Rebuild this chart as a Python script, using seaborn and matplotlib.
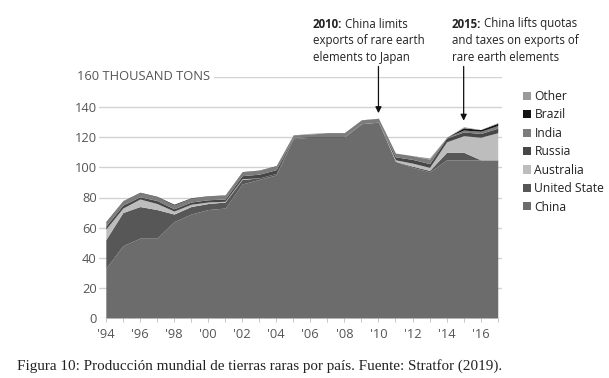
import numpy as np
import pandas as pd
import matplotlib
matplotlib.use("Agg")
import matplotlib.pyplot as plt
import seaborn as sns

years = list(range(1994, 2018))
china = [33, 48, 53, 53, 64, 69, 72, 73, 89, 92, 95, 119, 120, 120, 120, 129, 130, 104, 100, 97, 105, 105, 105, 105]
united_states = [19, 22, 21, 19, 5, 5, 4, 4, 3, 1, 1, 0.5, 0, 0, 0, 0, 0, 0, 0.8, 1, 5, 5, 0, 0]
australia = [7, 3, 5, 4, 2, 1.5, 1, 0.5, 0.5, 0, 0, 0, 0, 0, 0, 0, 0, 1, 2, 2, 7, 11, 15, 18]
russia = [2, 2, 1.5, 2, 1.5, 1.5, 1.5, 1.5, 2, 2.5, 2.5, 0.5, 0.5, 0.5, 0.5, 0, 0, 2, 2.5, 2.5, 2.5, 2.5, 2.5, 3]
india = [2.5, 2.5, 2.7, 2.5, 2.5, 2.5, 2.5, 2.5, 2.5, 2.5, 2.5, 1.5, 1.5, 2.5, 2.5, 2.5, 2.5, 2.5, 2.5, 2.5, 0.5, 1.3, 1.5, 1.8]
brazil = [0.5, 0.3, 0.3, 0.3, 0.5, 0.3, 0.2, 0.2, 0.2, 0.2, 0.2, 0.1, 0.1, 0.1, 0.1, 0.1, 0.1, 0, 0, 0.3, 0, 1.5, 1.1, 1.5]
other = [0, 0.2, 0, 0, 0, 0, 0, 0, 0, 0, 0, 0, 0.5, 0, 0, 0, 0, 0, 0, 1, 0, 0.7, 0, 0.5]

countries = ["China", "United State", "Australia", "Russia", "India", "Brazil", "Other"]
colors = ["#6c6c6c", "#575757", "#bdbdbd", "#474747", "#7c7c7c", "#141414", "#9a9a9a"]

df = pd.DataFrame({"China": china, "United State": united_states, "Australia": australia,
                   "Russia": russia, "India": india, "Brazil": brazil, "Other": other}, index=years)

sns.set_theme(style="white")
plt.rcParams["font.family"] = ["Open Sans", "DejaVu Sans"]

W, H = 609, 378
fig = plt.figure(figsize=(W / 100, H / 100), dpi=100)
ax = fig.add_axes([99 / W, 1 - 318 / H, 403 / W, (318 - 77) / H])

ax.stackplot(df.index, [df[c] for c in countries], colors=colors, labels=countries, linewidth=0, zorder=2)

ax.set_xlim(1993.6, 2017.25)
ax.set_ylim(0, 160)
for s in ax.spines.values():
    s.set_visible(False)

ax.set_yticks(range(0, 161, 20))
ax.set_yticklabels([str(v) for v in range(0, 141, 20)] + [""])
ax.yaxis.grid(True, color="#d2d2d2", linewidth=1, zorder=0)
ax.xaxis.grid(False)
ax.tick_params(axis="y", length=0, pad=1.5, labelsize=9.3, labelcolor="#555555")
ax.text(-0.0555, 160, "160 THOUSAND TONS", transform=ax.get_yaxis_transform(), ha="left", va="center",
        fontsize=9.3, color="#555555", zorder=3,
        bbox=dict(facecolor="white", edgecolor="none", pad=3))

ax.set_xticks(range(1994, 2017, 2))
ax.set_xticklabels(["'%02d" % (y % 100) for y in range(1994, 2017, 2)])
ax.set_xticks(range(1994, 2018), minor=True)
ax.tick_params(axis="x", which="both", bottom=True, length=3, width=0.6, color="#bbbbbb",
               pad=4, labelsize=9.3, labelcolor="#555555")

# legend
handles, labels = ax.get_legend_handles_labels()
leg = ax.legend(handles[::-1], labels[::-1], loc="upper left", bbox_to_anchor=(523 / W, 1 - 90 / H),
                bbox_transform=fig.transFigure, frameon=False, fontsize=8.7, labelspacing=0.45,
                handlelength=0.65, handleheight=0.65, handletextpad=0.3, borderpad=0, borderaxespad=0)
for t in leg.get_texts():
    t.set_color("#222222")


# annotations: bold year, then plain text, and an arrow down to the area
def note(x_px, year, tip_val, head, rest_first, rest_lines):
    t = fig.text(x_px / W, 1 - 24 / H, head, fontsize=8.3, fontweight="bold", color="#222222",
                 ha="left", va="center")
    ax.annotate(rest_first, xy=(1, 0), xycoords=t, ha="left", va="bottom", fontsize=8.3,
                color="#222222", annotation_clip=False)
    fig.text(x_px / W, 1 - 40.7 / H, rest_lines[0], fontsize=8.3, color="#222222", ha="left", va="center")
    fig.text(x_px / W, 1 - 57.3 / H, rest_lines[1], fontsize=8.3, color="#222222", ha="left", va="center")
    ax.annotate("", xy=(year, tip_val), xytext=(year, 167), annotation_clip=False,
                arrowprops=dict(arrowstyle="-|>", color="#111111", lw=0.9, mutation_scale=9,
                                shrinkA=0, shrinkB=0))


note(313, 2010, 136, "2010:", " China limits", ["exports of rare earth", "elements to Japan"])
note(452, 2015, 131, "2015:", " China lifts quotas", ["and taxes on exports of", "rare earth elements"])

fig.text(17 / W, 1 - 366 / H, "Figura 10: Producción mundial de tierras raras por país. Fuente: Stratfor (2019).",
         family=["Liberation Serif", "DejaVu Serif"], fontsize=10.9, color="#222222", ha="left", va="center")

fig.savefig("out.png", dpi=100)
